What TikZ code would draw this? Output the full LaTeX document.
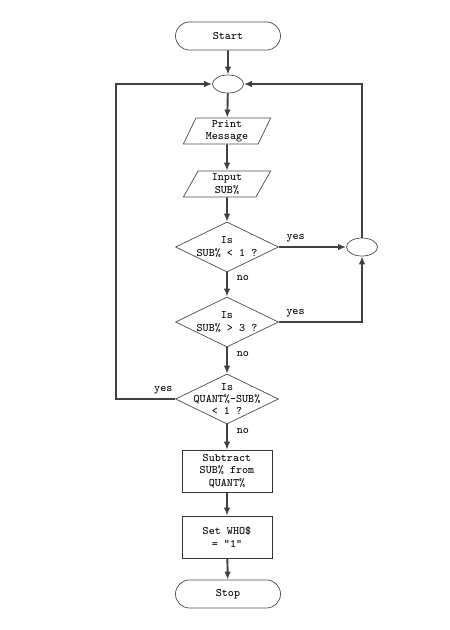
\documentclass[tikz,border=0pt]{standalone}
\usepackage{tikz}
\usepackage{xcolor}
\usetikzlibrary{shapes.geometric,shapes.misc,arrows.meta}

\begin{document}
\begin{tikzpicture}[
			 texto/.style={font=\ttfamily\fontsize{6.5}{7}\selectfont, align=center},
			 terminal/.style={rounded rectangle, draw=black!70, thin, texto, minimum width=2.1cm, minimum height=0.56cm, inner sep=0pt},
			 union/.style={ellipse, draw=black!70, thin, minimum width=0.62cm, minimum height=0.36cm, inner sep=0pt},
			 entrada/.style={trapezium, trapezium left angle=70, trapezium right angle=110, trapezium stretches=true, draw=black!70, thin, texto, minimum width=1.75cm, minimum height=0.52cm, inner sep=1pt},
			 decision/.style={diamond, draw=black!70, thin, minimum width=2.06cm, minimum height=1cm, inner sep=0pt},
			 proceso/.style={rectangle, draw=black!80, thin, texto, minimum width=1.8cm, minimum height=0.84cm, inner sep=1pt},
			 flecha/.style={draw=black!75, line width=1.1pt, -{Latex[length=1.6mm,width=1.3mm]}},
			 etiqueta/.style={font=\ttfamily\fontsize{6.5}{7}\selectfont, inner sep=2pt}
  		]
	\useasboundingbox (0,0) rectangle (9,-12.6);

	%Creamos los nodos

		\node[terminal] (inicio) at (4.56,-0.72) {Start};
		\node[union] (u1) at (4.56,-1.68) {};
		\node[entrada] (imprime) at (4.54,-2.62) {Print\\Message};
		\node[entrada] (lee) at (4.54,-3.68) {Input\\SUB\%};
		\node[decision, label={[texto]center:Is\\SUB\% < 1 ?}] (d1) at (4.54,-4.94) {};
		\node[decision, label={[texto]center:Is\\SUB\% > 3 ?}] (d2) at (4.54,-6.44) {};
		\node[decision, label={[texto]center:Is\\QUANT\%-SUB\%\\< 1 ?}] (d3) at (4.54,-7.98) {};
		\node[proceso] (resta) at (4.54,-9.42) {Subtract\\SUB\% from\\QUANT\%};
		\node[proceso] (asigna) at (4.54,-10.74) {Set WHO\$\\= "1"};
		\node[terminal] (fin) at (4.56,-11.88) {Stop};
		\node[union] (u2) at (7.24,-4.94) {};
		\coordinate (esq) at (2.32,-1.68);
	%Flujo principal
		\draw[flecha] (inicio) -- (u1);
		\draw[flecha] (u1) -- (imprime);
		\draw[flecha] (imprime) -- (lee);
		\draw[flecha] (lee) -- (d1);
		\draw[flecha] (d1) -- node[etiqueta, right, pos=0.25, xshift=3pt] {no} (d2);
		\draw[flecha] (d2) -- node[etiqueta, right, pos=0.25, xshift=3pt] {no} (d3);
		\draw[flecha] (d3) -- node[etiqueta, right, pos=0.25, xshift=3pt] {no} (resta);
		\draw[flecha] (resta) -- (asigna);
		\draw[flecha] (asigna) -- (fin);
	%Ramas del si
		\draw[flecha] (d1.east) -- node[etiqueta, above, pos=0.25] {yes} (u2.west);
		\draw[flecha] (d2.east) -| node[etiqueta, above, pos=0.1] {yes} (u2.south);
		\draw[flecha] (u2.north) |- (u1.east);
		\draw[flecha] (d3.west) -| node[etiqueta, above, pos=0.1] {yes} (esq) -- (u1.west);
	\end{tikzpicture}
\end{document}
